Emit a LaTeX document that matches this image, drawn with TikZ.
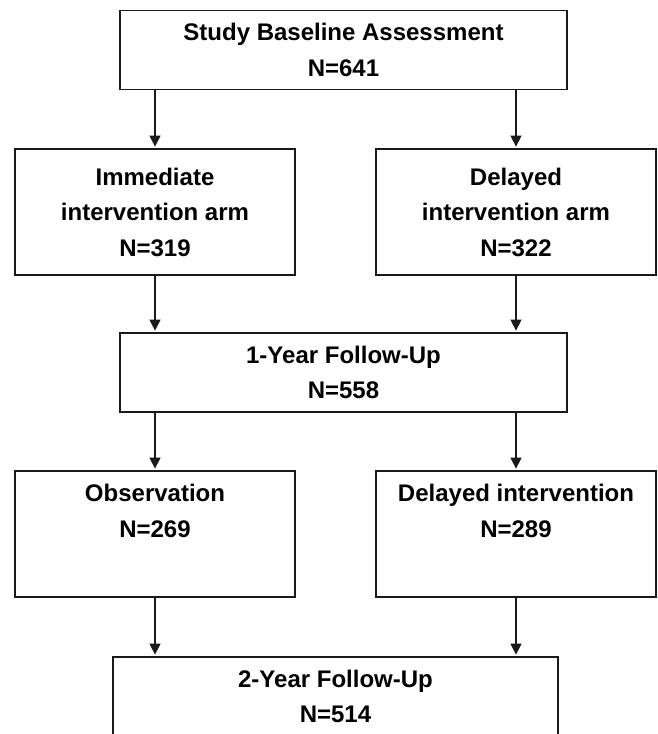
\documentclass[tikz,border=0pt]{standalone}
\usepackage{fontspec}
\setmainfont{Liberation Sans}
\usetikzlibrary{arrows.meta,calc,positioning}
\definecolor{boxline}{HTML}{1A1A1A}

\begin{document}
\begin{tikzpicture}[x=1pt,y=1pt,>={Triangle[length=11pt,width=11pt]},
  stagebox/.style={draw=boxline,line width=1.8pt,align=center,inner sep=0pt,
    font=\bfseries\fontsize{24}{35.5}\selectfont},
  widebox/.style={stagebox,minimum width=447pt,minimum height=79pt},
  armbox/.style={stagebox,minimum width=280pt,minimum height=126pt},
  flow/.style={->,boxline,line width=1.5pt,shorten >=1.5pt}]
  % Page frame; the last box runs off the bottom edge.
  \clip (0,0) rectangle (658,734);

  % Stages of the trial.
  \node[widebox] (base) at (343.5,684) {Study Baseline Assessment\\N=641};
  \node[armbox] (imm) at (155,522) {Immediate\\intervention arm\\N=319};
  \node[armbox] (del) at (516,522) {Delayed\\intervention arm\\N=322};
  \node[widebox] (fu1) at (343.5,361.5) {1-Year Follow-Up\\N=558};
  \node[armbox] (obs) at (155,200) {Observation\\N=269\\\strut};
  \node[armbox] (dint) at (516,200) {Delayed intervention\\N=289\\\strut};
  \node[widebox,minimum width=445pt] (fu2) at (335.5,37.5) {2-Year Follow-Up\\N=514};

  % Flow between stages.
  \draw[flow] (base.south -| imm.north) -- (imm.north);
  \draw[flow] (base.south -| del.north) -- (del.north);
  \draw[flow] (imm.south) -- (imm.south |- fu1.north);
  \draw[flow] (del.south) -- (del.south |- fu1.north);
  \draw[flow] (fu1.south -| obs.north) -- (obs.north);
  \draw[flow] (fu1.south -| dint.north) -- (dint.north);
  \draw[flow] (obs.south) -- (obs.south |- fu2.north);
  \draw[flow] (dint.south) -- (dint.south |- fu2.north);
\end{tikzpicture}
\end{document}
